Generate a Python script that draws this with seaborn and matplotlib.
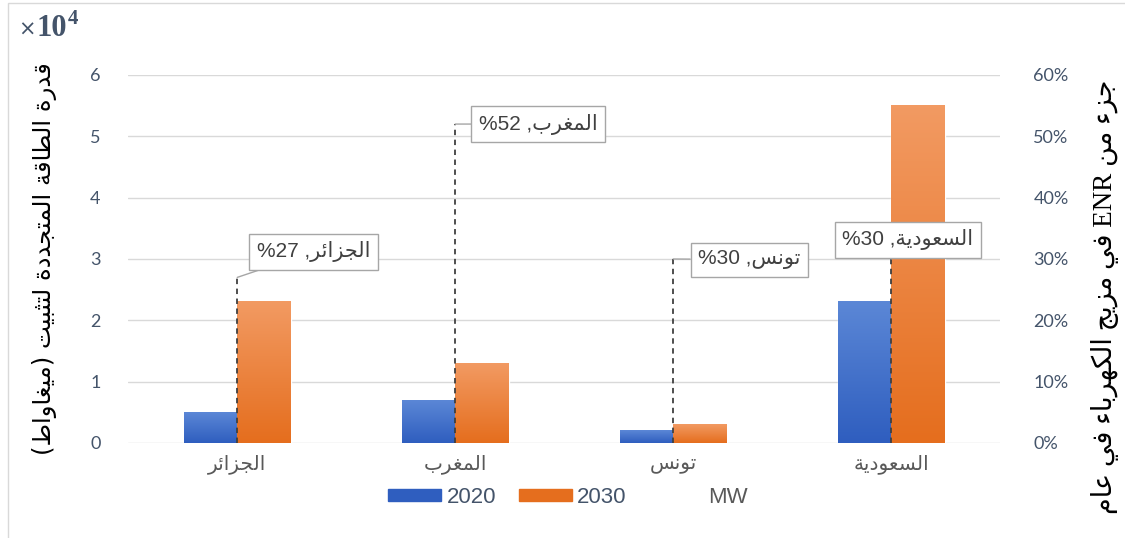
import re
import numpy as np
import pandas as pd
import matplotlib
matplotlib.use("Agg")
import matplotlib.pyplot as plt
import seaborn as sns
from matplotlib.patches import Patch, Rectangle
from matplotlib.lines import Line2D
from matplotlib.colors import to_rgb

# ---------------- data ----------------
countries = ["الجزائر", "المغرب", "تونس", "السعودية"]
years = ["2020", "2030"]
cap_2020 = [5000, 7000, 2000, 23000]      # MW
cap_2030 = [23000, 13000, 3000, 55000]    # MW
share_pct = [27, 52, 30, 30]              # % of electricity mix
left_ticks = [0, 1, 2, 3, 4, 5, 6]
right_ticks = [0, 10, 20, 30, 40, 50, 60]
ylabel_left = "قدرة الطاقة المتجددة لتثبيت (ميغاواط)"
ylabel_right = "جزء من ENR في مزيج الكهرباء في عام"
unit_label = "MW"

# ---------------- minimal Arabic shaping (visual order) ----------------
DUAL = {'ئ': 0xFE89, 'ب': 0xFE8F, 'ت': 0xFE95, 'ث': 0xFE99, 'ج': 0xFE9D,
        'س': 0xFEB1, 'ط': 0xFEC1, 'ع': 0xFEC9, 'غ': 0xFECD, 'ف': 0xFED1,
        'ق': 0xFED5, 'ك': 0xFED9, 'ل': 0xFEDD, 'م': 0xFEE1, 'ن': 0xFEE5,
        'ه': 0xFEE9, 'ي': 0xFEF1}
RIGHT = {'ا': 0xFE8D, 'ة': 0xFE93, 'د': 0xFEA9, 'ر': 0xFEAD, 'ز': 0xFEAF,
         'و': 0xFEED}
NONJ = {'ء': 0xFE80}


def _shape(s):
    out = []
    for i, c in enumerate(s):
        p = s[i - 1] if i > 0 else ''
        n = s[i + 1] if i + 1 < len(s) else ''
        jp = p in DUAL and (c in DUAL or c in RIGHT)
        jn = c in DUAL and (n in DUAL or n in RIGHT)
        if c in DUAL:
            off = 3 if (jp and jn) else 1 if jp else 2 if jn else 0
            out.append(chr(DUAL[c] + off))
        elif c in RIGHT:
            out.append(chr(RIGHT[c] + (1 if jp else 0)))
        elif c in NONJ:
            out.append(chr(NONJ[c]))
        else:
            out.append(c)
    return ''.join(out)


def rtl(s):
    v = _shape(s)[::-1]
    v = re.sub(r'[A-Za-z0-9.]+', lambda m: m.group(0)[::-1], v)
    v = v.translate(str.maketrans('()', ')('))
    return v


# ---------------- style ----------------
BLUE_TOP, BLUE_BOT = "#5B87D6", "#2F5EBF"
ORG_TOP, ORG_BOT = "#F29A62", "#E56E1E"
TICK_C = "#44546A"
sns.set_theme(style="white")
plt.rcParams["font.family"] = ["Lato", "DejaVu Sans"]

fig = plt.figure(figsize=(11.25, 5.38), dpi=100)
ax = fig.add_axes([0.114, 0.1766, 0.775, 0.684])

df = pd.DataFrame({
    "country": countries * 2,
    "year": [years[0]] * 4 + [years[1]] * 4,
    "value": [v / 1e4 for v in cap_2020 + cap_2030],
})
sns.barplot(data=df, x="country", y="value", hue="year", order=countries,
            hue_order=years, palette=[BLUE_BOT, ORG_BOT], width=0.49,
            saturation=1, legend=False, ax=ax)

# gradient fill for bars
for patch in list(ax.patches):
    x0, y0 = patch.get_x(), patch.get_y()
    w, h = patch.get_width(), patch.get_height()
    fc = patch.get_facecolor()
    is_blue = abs(fc[2] - to_rgb(BLUE_BOT)[2]) < 0.05
    top, bot = (BLUE_TOP, BLUE_BOT) if is_blue else (ORG_TOP, ORG_BOT)
    t = np.linspace(0, 1, 64)[:, None]
    grad = (1 - t) * np.array(to_rgb(bot)) + t * np.array(to_rgb(top))
    grad = grad[:, None, :]
    ax.imshow(grad, extent=[x0, x0 + w, y0, y0 + h], origin="lower",
              aspect="auto", zorder=patch.get_zorder() + 0.1,
              interpolation="bilinear")

ax.set_xlim(-0.5, 3.5)
ax.set_ylim(0, 6)
ax.set_yticks(left_ticks)
ax.set_yticklabels([str(t) for t in left_ticks])
ax.set_xticks(range(len(countries)))
ax.set_xticklabels([rtl(c) for c in countries], family=["DejaVu Sans"],
                   fontsize=14.5, color="#595959")
ax.set_xlabel("")
ax.set_ylabel("")
ax.yaxis.grid(True, color="#D9D9D9", lw=1)
ax.set_axisbelow(True)
for s in ax.spines.values():
    s.set_visible(False)
ax.tick_params(axis="y", length=0, pad=20, labelsize=13, labelcolor=TICK_C)
ax.tick_params(axis="x", length=0, pad=8)

ax2 = ax.twinx()
ax2.set_ylim(0, 60)
ax2.set_yticks(right_ticks)
ax2.set_yticklabels([f"{t}%" for t in right_ticks])
ax2.tick_params(axis="y", length=0, pad=24, labelsize=13, labelcolor=TICK_C)
for s in ax2.spines.values():
    s.set_visible(False)
ax2.grid(False)

# dashed drop lines for share
ax2.vlines(range(len(countries)), 0, share_pct, colors="#404040",
           linestyles=(0, (3, 2.5)), lw=1.3, zorder=3)

# callout labels
box_pos = [(0.351, 31.2), (1.381, 52.0), (2.349, 29.9), (3.076, 33.1)]
for i, (c, p) in enumerate(zip(countries, share_pct)):
    lab = f"%{p} ," + rtl(c)
    ax2.annotate(lab, xy=(i, p), xytext=box_pos[i], textcoords="data",
                 ha="center", va="center", fontsize=15, color="#404040",
                 family=["Liberation Sans", "DejaVu Sans"],
                 bbox=dict(boxstyle="square,pad=0.36", fc="white",
                           ec="#A6A6A6", lw=1),
                 arrowprops=dict(arrowstyle="-", color="#A6A6A6", lw=1,
                                 shrinkA=0, shrinkB=0),
                 zorder=5)

# axis titles
fig.text(0.040, 0.52, rtl(ylabel_left), rotation=90, ha="center",
         va="center", fontsize=17.5, color="black", family=["DejaVu Sans"])
fig.text(0.982, 0.448, rtl(ylabel_right), rotation=90, ha="center",
         va="center", fontsize=19.5, color="black",
         family=["Liberation Serif", "DejaVu Sans"])

# x10^4 multiplier
fig.text(0.016, 0.933, "×", fontsize=15, family="DejaVu Sans",
         color=TICK_C, ha="left", va="baseline")
fig.text(0.0325, 0.933, "10", fontsize=22, fontweight="bold",
         family="Liberation Serif", color=TICK_C, ha="left", va="baseline")
fig.text(0.0605, 0.955, "4", fontsize=15, fontweight="bold",
         family="Liberation Serif", color=TICK_C, ha="left", va="baseline")

# legend
handles = [Patch(color=BLUE_BOT), Patch(color=ORG_BOT),
           Line2D([], [], color="none")]
leg = fig.legend(handles, years + [unit_label], loc="center",
                 bbox_to_anchor=(0.505, 0.076), ncol=3, frameon=False,
                 prop={"family": "Liberation Sans", "size": 16},
                 handlelength=2.36, handleheight=0.45,
                 handletextpad=0.25, columnspacing=1.05)
for t in leg.get_texts():
    t.set_color(TICK_C)
leg.get_texts()[2].set_color("#595959")

# outer frame lines
fig.add_artist(Rectangle((0.007, -0.01), 1.1, 1.004, transform=fig.transFigure,
                         fill=False, ec="#D9D9D9", lw=1))

fig.savefig("out.png", dpi=100)
